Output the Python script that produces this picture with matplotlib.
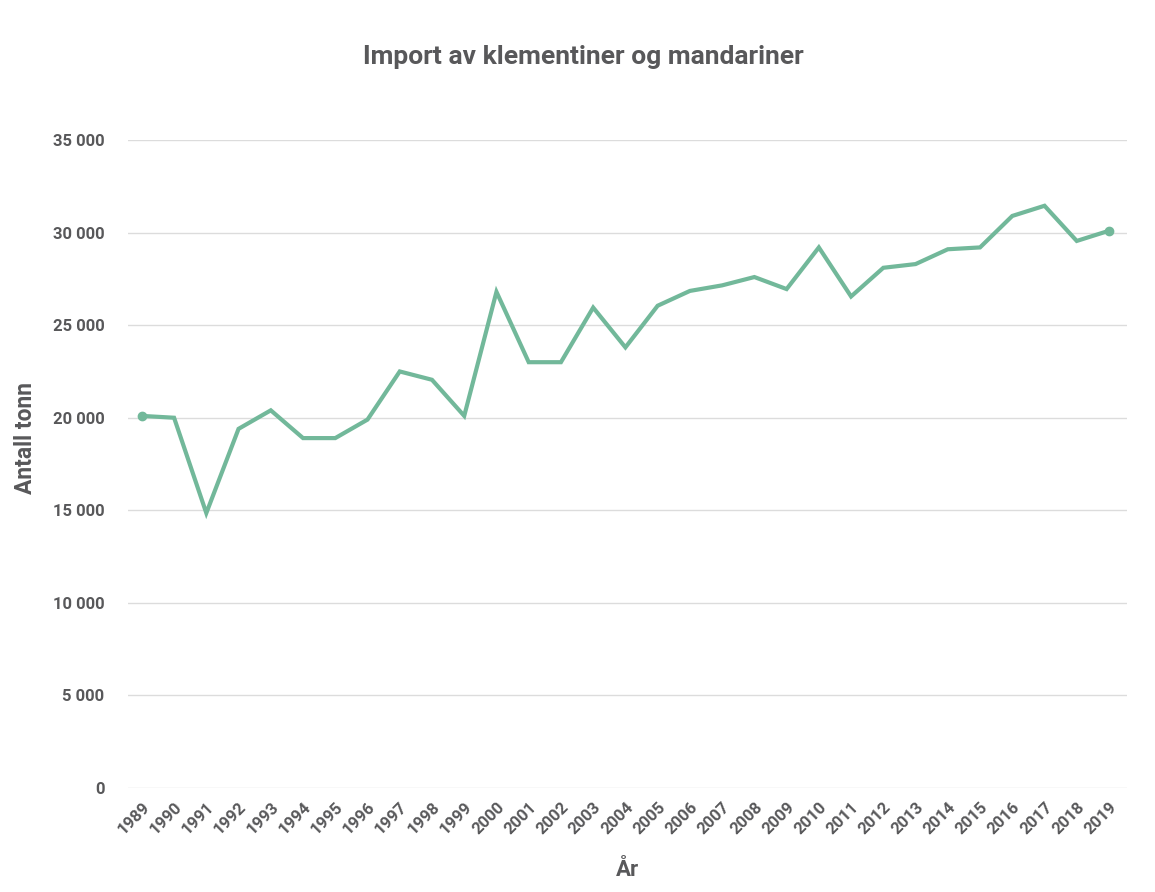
import matplotlib
matplotlib.use("Agg")
import matplotlib.pyplot as plt
from matplotlib.ticker import FuncFormatter

# Data
years = list(range(1989, 2020))
tonn = [20100, 20000, 14850, 19400, 20400, 18900, 18900, 19900, 22500, 22050,
        20100, 26800, 23000, 23000, 25950, 23800, 26050, 26850, 27150, 27600,
        26950, 29200, 26550, 28100, 28300, 29100, 29200, 30900, 31450, 29550,
        30100]
y_ticks = [0, 5000, 10000, 15000, 20000, 25000, 30000, 35000]

LINE = "#72b89a"
TEXT = "#58585a"
GRID = "#dcdcdc"

plt.rcParams["font.family"] = ["Roboto", "DejaVu Sans"]

fig = plt.figure(figsize=(11.55, 8.92), dpi=100)
ax = fig.add_axes([0.1108, 0.1166, 0.8650, 0.7264])

ax.plot(years, tonn, color=LINE, lw=3, solid_joinstyle="miter", clip_on=False)
ax.plot([years[0], years[-1]], [tonn[0], tonn[-1]], "o", color=LINE, ms=6, clip_on=False)

ax.set_xlim(1988.57, 2019.56)
ax.set_ylim(0, 35000)
ax.set_yticks(y_ticks)
ax.yaxis.set_major_formatter(FuncFormatter(lambda v, p: f"{int(v):,}".replace(",", " ")))
ax.set_xticks(years)
ax.set_xticklabels([str(y) for y in years], rotation=45, ha="right", rotation_mode="anchor")

ax.grid(axis="y", color=GRID, lw=1)
ax.set_axisbelow(True)
for s in ax.spines.values():
    s.set_visible(False)
ax.tick_params(length=0, labelsize=12, labelcolor=TEXT)
ax.tick_params(axis="y", pad=17)
ax.tick_params(axis="x", pad=8)
for lbl in ax.get_xticklabels() + ax.get_yticklabels():
    lbl.set_fontweight("bold")

ax.set_ylabel("Antall tonn", fontsize=16.5, fontweight="bold", color=TEXT)
ax.yaxis.set_label_coords(-0.091, 0.54)
ax.set_xlabel("År", fontsize=16, fontweight="bold", color=TEXT, labelpad=16)
fig.text(0.505, 0.936, "Import av klementiner og mandariner", ha="center", va="center",
         fontsize=19, fontweight="bold", color=TEXT)

fig.savefig("out.png", dpi=100, facecolor="white")
